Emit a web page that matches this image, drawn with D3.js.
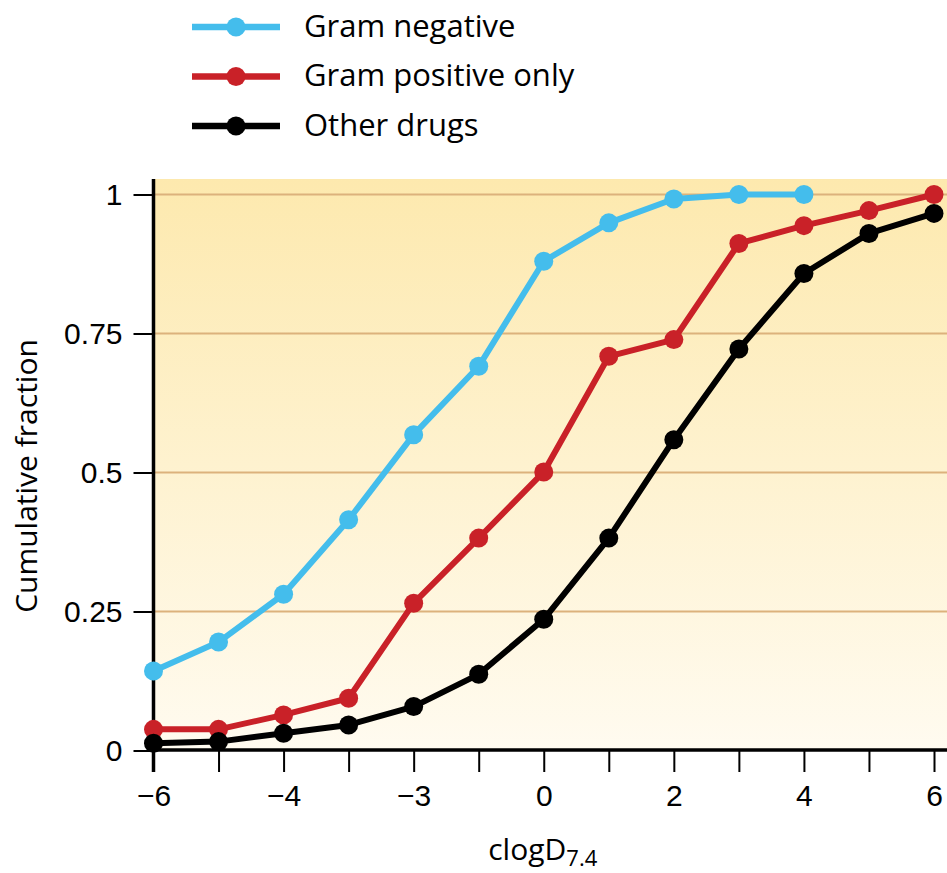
<!DOCTYPE html>
<html>
<head>
<meta charset="utf-8">
<script src="https://cdn.jsdelivr.net/npm/d3@7/dist/d3.min.js"></script>
<style>
  html, body { margin: 0; padding: 0; background: #fff; }
  svg { display: block; font-family: "Open Sans", "Noto Sans", sans-serif; }
</style>
</head>
<body>
<div id="chart"></div>
<script>
const xValues = [-6, -5, -4, -3, -2, -1, 0, 1, 2, 3, 4, 5, 6];
const gramNegative = [0.143, 0.195, 0.281, 0.415, 0.568, 0.691, 0.880, 0.949, 0.992, 1.0, 1.0];
const gramPositive = [0.038, 0.038, 0.064, 0.094, 0.265, 0.382, 0.501, 0.709, 0.739, 0.912, 0.944, 0.971, 1.0];
const otherDrugs = [0.013, 0.016, 0.031, 0.046, 0.079, 0.137, 0.236, 0.382, 0.559, 0.722, 0.858, 0.930, 0.966];

const yTicks = [0, 0.25, 0.5, 0.75, 1];
const yTickLabels = ['0', '0.25', '0.5', '0.75', '1'];
const xLabelTicks = [-6, -4, -2, 0, 2, 4, 6];
// labels as printed on the original figure
const xTickLabels = ['\u22126', '\u22124', '\u22123', '0', '2', '4', '6'];

const series = [
  { name: 'Gram negative', values: gramNegative, color: '#44bdec' },
  { name: 'Gram positive only', values: gramPositive, color: '#c92128' },
  { name: 'Other drugs', values: otherDrugs, color: '#000000' },
];

const width = 947;
const height = 873;
const plot = { left: 153, right: 947, top: 179, bottom: 750 };
const fontSize = 30;

const svg = d3.select('#chart')
  .append('svg')
  .attr('width', width)
  .attr('height', height)
  .attr('viewBox', [0, 0, width, height]);

const x = d3.scaleLinear().domain([-6, 6]).range([153.5, 934]);
const y = d3.scaleLinear().domain([0, 1]).range([750.5, 194.5]);

// background gradient
const grad = svg.append('defs')
  .append('linearGradient')
  .attr('id', 'bg')
  .attr('x1', 0).attr('y1', 0)
  .attr('x2', 0).attr('y2', 1);
grad.append('stop').attr('offset', '0%').attr('stop-color', '#fde9ae');
grad.append('stop').attr('offset', '100%').attr('stop-color', '#fffbf0');

svg.append('rect')
  .attr('x', plot.left)
  .attr('y', plot.top)
  .attr('width', plot.right - plot.left)
  .attr('height', plot.bottom - plot.top)
  .attr('fill', 'url(#bg)');

// gridlines
svg.append('g')
  .selectAll('line')
  .data(yTicks.filter((d) => d > 0))
  .join('line')
  .attr('x1', plot.left)
  .attr('x2', plot.right)
  .attr('y1', (d) => y(d))
  .attr('y2', (d) => y(d))
  .attr('stroke', '#dcb27c')
  .attr('stroke-width', 2);

// y axis
const yAxis = svg.append('g')
  .attr('transform', `translate(${x(-6)},0)`)
  .call(d3.axisLeft(y)
    .tickValues(yTicks)
    .tickSize(20)
    .tickPadding(11)
    .tickFormat((d, i) => yTickLabels[i]));
yAxis.select('.domain').remove();
yAxis.selectAll('.tick line').attr('stroke', '#000').attr('stroke-width', 2);
yAxis.selectAll('text')
  .attr('fill', '#000')
  .style('font-size', `${fontSize}px`);

svg.append('line')
  .attr('x1', x(-6)).attr('x2', x(-6))
  .attr('y1', plot.top).attr('y2', 772)
  .attr('stroke', '#000')
  .attr('stroke-width', 3.5);

// x axis
const xAxis = svg.append('g')
  .attr('transform', `translate(0,${plot.bottom})`)
  .call(d3.axisBottom(x).tickValues(xValues).tickSize(22).tickFormat(''));
xAxis.select('.domain').remove();
xAxis.selectAll('.tick line').attr('stroke', '#000').attr('stroke-width', 2);

const xLabels = svg.append('g')
  .attr('transform', `translate(0,${plot.bottom})`)
  .call(d3.axisBottom(x)
    .tickValues(xLabelTicks)
    .tickSize(0)
    .tickPadding(35)
    .tickFormat((d, i) => xTickLabels[i]));
xLabels.select('.domain').remove();
xLabels.selectAll('text')
  .attr('fill', '#000')
  .style('font-size', `${fontSize}px`);

svg.append('line')
  .attr('x1', x(-6) - 2).attr('x2', plot.right)
  .attr('y1', plot.bottom).attr('y2', plot.bottom)
  .attr('stroke', '#000')
  .attr('stroke-width', 3.5);

// axis titles
const xTitle = svg.append('text')
  .attr('x', x(0) - 1)
  .attr('y', 860)
  .attr('text-anchor', 'middle')
  .attr('fill', '#000')
  .style('font-size', `${fontSize}px`);
xTitle.append('tspan').text('clogD');
xTitle.append('tspan').attr('dy', 6).style('font-size', '22px').text('7.4');

svg.append('text')
  .attr('transform', `translate(37,476) rotate(-90)`)
  .attr('text-anchor', 'middle')
  .attr('fill', '#000')
  .style('font-size', `${fontSize}px`)
  .text('Cumulative fraction');

// series
const line = d3.line()
  .x((d, i) => x(xValues[i]))
  .y((d) => y(d));

const gSeries = svg.append('g');
series.forEach((s) => {
  gSeries.append('path')
    .datum(s.values)
    .attr('d', line)
    .attr('fill', 'none')
    .attr('stroke', s.color)
    .attr('stroke-width', 6)
    .attr('stroke-linejoin', 'round');
  gSeries.append('g')
    .selectAll('circle')
    .data(s.values)
    .join('circle')
    .attr('cx', (d, i) => x(xValues[i]))
    .attr('cy', (d) => y(d))
    .attr('r', 9.5)
    .attr('fill', s.color);
});

// legend
const legend = svg.append('g')
  .selectAll('g')
  .data(series)
  .join('g')
  .attr('transform', (d, i) => `translate(0,${27 + i * 49.5})`);
legend.append('line')
  .attr('x1', 192).attr('x2', 280)
  .attr('stroke', (d) => d.color)
  .attr('stroke-width', 6.5);
legend.append('circle')
  .attr('cx', 236)
  .attr('r', 9.5)
  .attr('fill', (d) => d.color);
legend.append('text')
  .attr('x', 304)
  .attr('dy', '0.32em')
  .attr('fill', '#000')
  .style('font-size', '31px')
  .text((d) => d.name);
</script>
</body>
</html>
